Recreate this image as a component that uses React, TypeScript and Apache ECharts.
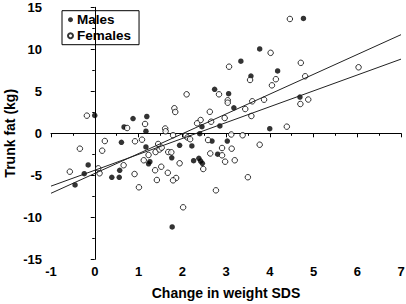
import React, { useEffect, useRef } from "react";
import * as echarts from "echarts";

const maleX = [0.0, 0.875, 1.19, 0.67, 1.17, 0.61, 1.17, 1.26, 1.23, -0.15, 0.57, -0.24, 0.39, 0.56, -0.45, 2.74, 3.06, 3.18, 2.45, 2.86, 4.0, 2.4, 2.68, 3.03, 1.94, 2.22, 2.81, 1.76, 2.26, 2.38, 2.42, 2.46, 1.77, 3.77, 3.34, 3.57, 4.18, 4.77, 4.69];
const maleY = [2.12, 1.76, 2.0, 0.75, 0.25, -1.07, -1.63, -3.38, -3.63, -3.77, -4.4, -4.81, -5.24, -5.24, -6.15, 5.24, 4.71, 3.04, 0.79, 0.87, 0.55, -0.05, -0.92, -0.92, -1.43, -1.51, -2.49, -2.92, -3.26, -2.98, -3.3, -3.57, -11.15, 10.04, 8.58, 6.82, 7.42, 13.67, 4.32];

const femaleX = [-0.18, 1.15, 0.74, 1.61, 1.62, 0.23, 0.92, 1.08, 1.45, -0.34, 0.17, 1.39, 1.48, 1.53, 1.23, 1.68, 1.12, 1.52, 0.66, 0.08, 1.38, -0.57, 0.11, 0.91, 1.42, 1.01, 2.1, 2.84, 3.04, 3.04, 3.44, 3.6, 3.87, 1.82, 1.84, 2.63, 3.58, 2.42, 2.34, 2.66, 2.97, 1.79, 2.08, 2.12, 2.18, 3.12, 3.38, 2.59, 3.77, 2.91, 3.13, 1.75, 2.64, 2.91, 1.94, 2.98, 3.2, 2.48, 1.67, 1.86, 1.79, 3.5, 2.77, 2.02, 4.02, 3.07, 3.55, 4.05, 4.14, 4.46, 4.71, 4.81, 6.03, 4.7, 4.88, 4.39];
const femaleY = [2.1, 1.11, 0.63, 0.57, 0.24, -0.92, -0.95, -0.76, -1.27, -1.83, -2.07, -2.23, -1.93, -1.71, -2.58, -2.23, -3.21, -3.98, -3.8, -4.17, -4.4, -4.57, -4.76, -4.85, -5.56, -6.43, 4.64, 4.64, 3.93, 3.64, 2.89, 3.81, 4.0, 2.98, 2.54, 2.56, 2.06, 1.58, 1.19, 1.38, 1.82, -0.23, -0.29, -0.5, -0.7, -0.14, -0.23, -0.8, -1.36, -1.75, -1.83, -2.26, -2.4, -2.62, -3.57, -3.38, -3.21, -4.25, -4.7, -5.32, -5.6, -5.23, -6.79, -8.81, 9.58, 7.93, 6.35, 5.71, 6.44, 13.61, 8.39, 6.79, 7.86, 3.49, 4.02, 0.79];

// regression lines: [intercept, slope]
const fitSteep = [-4.78, 2.36];
const fitShallow = [-4.4, 1.89];
const xRange = [-1, 7];

const seriesNames = ["Males", "Females"];
const xTitle = "Change in weight SDS";
const yTitle = "Trunk fat (kg)";

const FONT = "'Liberation Sans', Arial, Helvetica, sans-serif";

function zip(xs: number[], ys: number[]) {
  return xs.map((x, i) => [x, ys[i]]);
}
function fitLine(f: number[]) {
  return xRange.map((x) => [x, f[0] + f[1] * x]);
}

export default function App() {
  const ref = useRef<HTMLDivElement>(null);
  useEffect(() => {
    if (!ref.current) return;
    const chart = echarts.init(ref.current, null, { renderer: "svg" });
    const axisCommon = {
      axisLine: { show: true, lineStyle: { color: "#000", width: 1 } },
      axisTick: { show: true, length: 4, inside: false, lineStyle: { color: "#000" } },
      minorTick: { show: true, splitNumber: 2, length: 2.5, lineStyle: { color: "#000" } },
      splitLine: { show: false },
      axisLabel: { color: "#000", fontFamily: FONT, fontWeight: "bold", fontSize: 13 },
      nameTextStyle: { color: "#000", fontFamily: FONT, fontWeight: "bold", fontSize: 14 },
      nameMoveOverlap: false,
    };
    chart.setOption({
      animation: false,
      backgroundColor: "#fff",
      grid: { left: 51, right: 5, top: 7.3, bottom: 44.7, containLabel: false, outerBoundsMode: "none" },
      legend: {
        data: [
          { name: seriesNames[0], icon: "circle" },
          { name: seriesNames[1], icon: "circle" },
        ],
        orient: "vertical",
        left: 62,
        top: 10.7,
        itemWidth: 5,
        itemHeight: 5,
        itemGap: 2,
        padding: [2, 8, 2, 5],
        borderColor: "#000",
        borderWidth: 1,
        borderRadius: 0,
        textStyle: { color: "#000", fontFamily: FONT, fontWeight: "bold", fontSize: 13.5, padding: [0, 0, 0, -1] },
      },
      xAxis: {
        type: "value",
        min: -1,
        max: 7,
        interval: 1,
        name: xTitle,
        nameLocation: "middle",
        nameGap: 27,
        ...axisCommon,
        axisLabel: { ...axisCommon.axisLabel, margin: 6 },
      },
      yAxis: {
        type: "value",
        min: -15,
        max: 15,
        interval: 5,
        name: yTitle,
        nameLocation: "middle",
        nameGap: 34,
        ...axisCommon,
        axisLabel: { ...axisCommon.axisLabel, margin: 9 },
      },
      series: [
        {
          name: seriesNames[0],
          type: "scatter",
          data: zip(maleX, maleY),
          symbol: "circle",
          symbolSize: 5.5,
          itemStyle: { color: "#000" },
          z: 3,
        },
        {
          name: seriesNames[1],
          type: "scatter",
          data: zip(femaleX, femaleY),
          symbol: "circle",
          symbolSize: 5.5,
          itemStyle: { color: "#fff", borderColor: "#000", borderWidth: 1 },
          z: 3,
        },
        {
          name: "fit1",
          type: "line",
          data: fitLine(fitSteep),
          symbol: "none",
          lineStyle: { color: "#222", width: 1 },
          z: 4,
        },
        {
          name: "fit2",
          type: "line",
          data: fitLine(fitShallow),
          symbol: "none",
          lineStyle: { color: "#222", width: 1 },
          z: 4,
        },
      ],
    });
    return () => chart.dispose();
  }, []);
  return <div ref={ref} style={{ width: 406, height: 304, position: "absolute", left: 0, top: 0 }} />;
}
